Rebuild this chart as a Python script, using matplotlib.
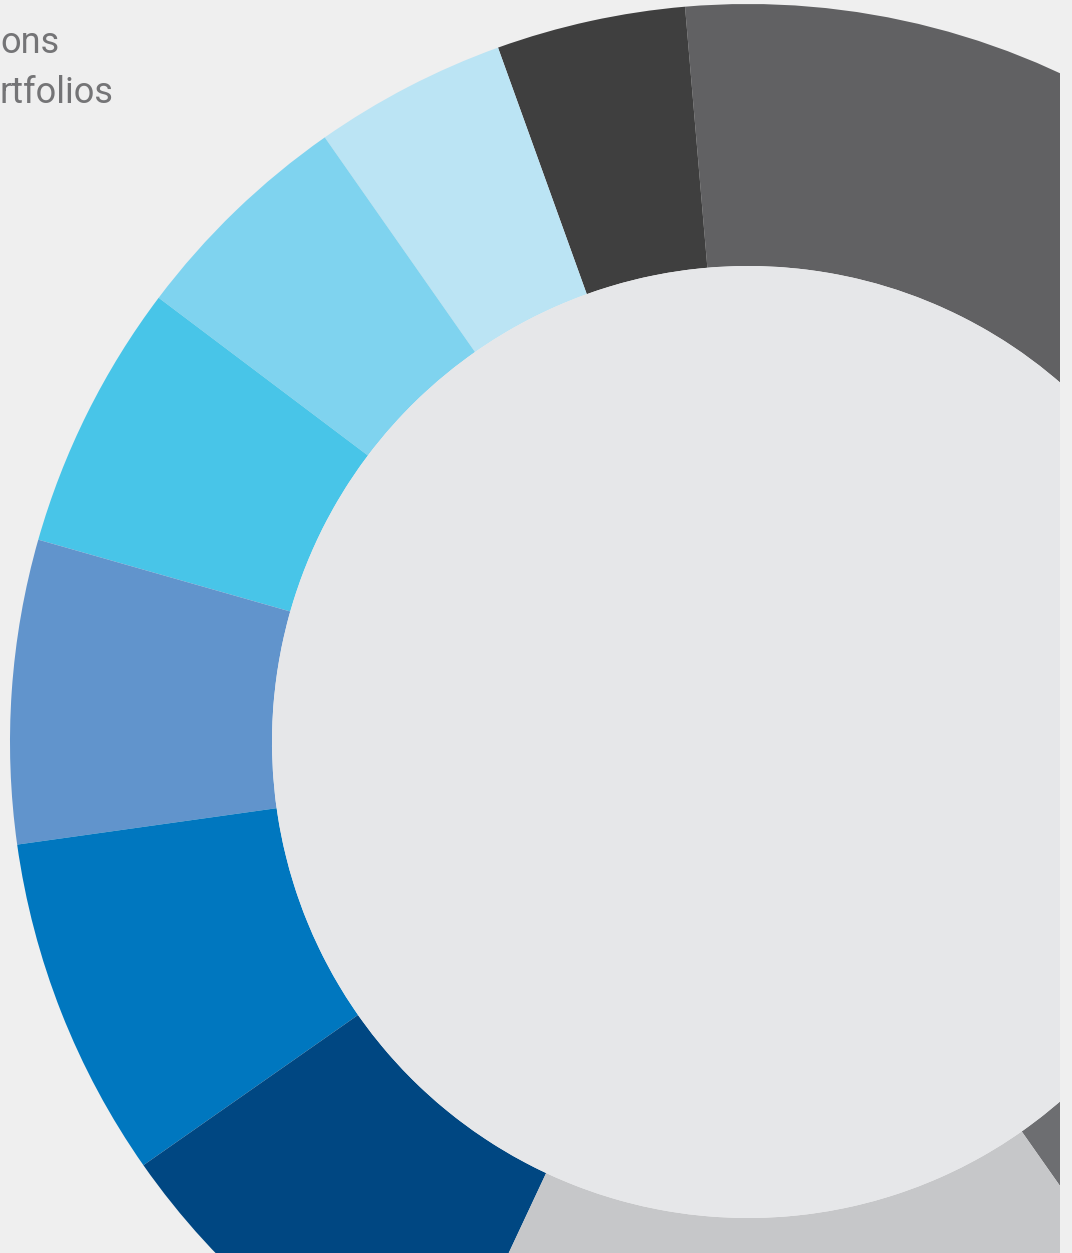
import matplotlib
matplotlib.use("Agg")
import matplotlib.pyplot as plt
from matplotlib.patches import Circle, Rectangle

# segment shares (%), counterclockwise from the bottom-right grey slice
segments = ["Other grey", "Grey", "Dark grey", "Lightest blue", "Light blue",
            "Cyan", "Steel blue", "Blue", "Navy", "Light grey"]
shares = [20.00, 21.61, 4.14, 4.22, 5.00, 5.86, 6.64, 7.50, 8.31, 16.72]
colors = ["#6d6e71", "#616163", "#3f3f3f", "#bbe4f4", "#7fd3ef",
          "#48c5e8", "#6194cc", "#0077bf", "#004782", "#c6c7c9"]
caption_lines = ["ons", "rtfolios"]

BG = "#efefef"
W, H = 1072, 1253

fig = plt.figure(figsize=(W / 100, H / 100), dpi=100, facecolor=BG)
ax = fig.add_axes([0, 0, 1, 1])
ax.set_facecolor(BG)

cx, cy = 748, H - 742
r_out, r_in = 738, 476
ax.pie(shares, colors=colors, startangle=305.1, counterclock=True,
       center=(cx, cy), radius=r_out,
       wedgeprops=dict(width=r_out - r_in, linewidth=0))
ax.add_patch(Circle((cx, cy), r_in, facecolor="#e6e7e9", linewidth=0, zorder=3))

# the chart is cut off at the right side
ax.add_patch(Rectangle((1060, 0), W - 1060, H, facecolor=BG, linewidth=0, zorder=5))

ax.set_xlim(0, W)
ax.set_ylim(0, H)
ax.set_aspect("auto")
ax.axis("off")

for i, line in enumerate(caption_lines):
    ax.text(0, H - 53 - i * 50, line, ha="left", va="baseline",
            fontsize=26, color="#747476", family="Roboto", zorder=6)

fig.savefig("out.png", dpi=100, facecolor=BG)
